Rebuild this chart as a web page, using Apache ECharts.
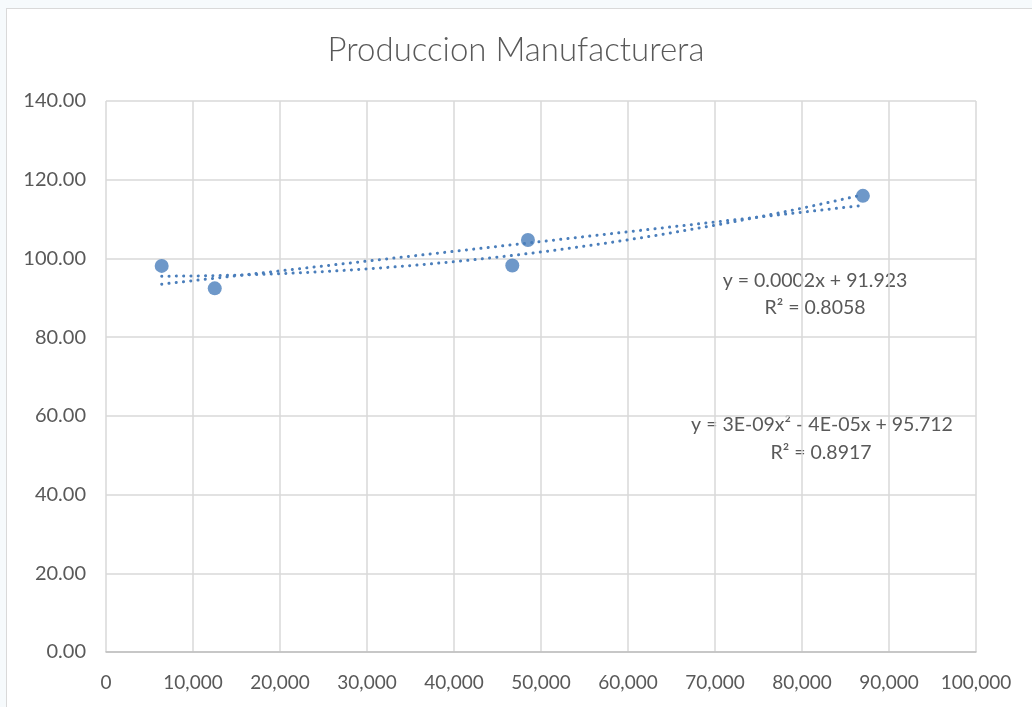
<!DOCTYPE html>
<html>
<head>
<meta charset="utf-8">
<script src="https://cdn.jsdelivr.net/npm/echarts@6/dist/echarts.min.js"></script>
<style>
  html, body { margin: 0; padding: 0; background: #f6fafc; }
  #frame {
    position: absolute; left: 6px; top: 8px; width: 1040px; height: 720px;
    background: #fff; border: 1px solid #d9d9d9; box-sizing: border-box;
  }
  #chart { position: absolute; left: 0; top: 0; width: 1032px; height: 707px; }
</style>
</head>
<body>
<div id="frame"></div>
<div id="chart"></div>
<script>
// datos
const xValues = [6400, 12500, 46700, 48500, 87000]
const yValues = [98.1, 92.4, 98.2, 104.7, 115.9]
const xTicks = [0, 10000, 20000, 30000, 40000, 50000, 60000, 70000, 80000, 90000, 100000]
const yTicks = [0, 20, 40, 60, 80, 100, 120, 140]
const linearLabel = ['y = 0.0002x + 91.923', 'R² = 0.8058']
const polyLabel = ['y = 3E-09x² - 4E-05x + 95.712', 'R² = 0.8917']

const blue = '#4a7ebb'
const grey = '#595959'
const font = 'Lato, "Open Sans", sans-serif'

// minimos cuadrados (lineal y polinomial grado 2)
const fitLinear = (xs, ys) => {
  const n = xs.length
  const mx = xs.reduce((a, b) => a + b, 0) / n
  const my = ys.reduce((a, b) => a + b, 0) / n
  let sxy = 0, sxx = 0
  xs.forEach((x, i) => { sxy += (x - mx) * (ys[i] - my); sxx += (x - mx) ** 2 })
  const b = sxy / sxx
  return x => my + b * (x - mx)
}

const fitQuad = (xs, ys) => {
  // escalar x para estabilidad
  const s = 1e4
  const u = xs.map(x => x / s)
  const S = k => u.reduce((a, v) => a + v ** k, 0)
  const T = k => u.reduce((a, v, i) => a + v ** k * ys[i], 0)
  const M = [
    [S(0), S(1), S(2), T(0)],
    [S(1), S(2), S(3), T(1)],
    [S(2), S(3), S(4), T(2)]
  ]
  for (let c = 0; c < 3; c++) {
    for (let r = c + 1; r < 3; r++) {
      const f = M[r][c] / M[c][c]
      for (let k = c; k < 4; k++) M[r][k] -= f * M[c][k]
    }
  }
  const p = [0, 0, 0]
  for (let r = 2; r >= 0; r--) {
    let v = M[r][3]
    for (let k = r + 1; k < 3; k++) v -= M[r][k] * p[k]
    p[r] = v / M[r][r]
  }
  return x => p[0] + p[1] * (x / s) + p[2] * (x / s) ** 2
}

const trend = fn => {
  const lo = Math.min(...xValues), hi = Math.max(...xValues)
  const out = []
  for (let i = 0; i <= 60; i++) {
    const x = lo + (hi - lo) * i / 60
    out.push([x, fn(x)])
  }
  return out
}

const chart = echarts.init(document.getElementById('chart'), null, { renderer: 'canvas' })

const dotted = { color: blue, width: 3, type: [0.1, 7.2], cap: 'round' }
const noteStyle = { align: 'center', verticalAlign: 'middle', fill: grey, font: '19.5px ' + font }

const option = {
  animation: false,
  title: {
    text: 'Produccion Manufacturera',
    left: 'center',
    top: 29,
    textStyle: { fontFamily: font, fontSize: 33, fontWeight: 300, color: grey }
  },
  grid: { left: 106, right: 56, top: 101, bottom: 55 },
  xAxis: {
    type: 'value',
    min: xTicks[0],
    max: xTicks[xTicks.length - 1],
    interval: xTicks[1] - xTicks[0],
    axisLine: { show: true, onZero: false, lineStyle: { color: '#bfbfbf', width: 1.5 } },
    axisTick: { show: false },
    splitLine: { lineStyle: { color: '#d9d9d9', width: 1.5 } },
    axisLabel: {
      margin: 21, color: grey, fontFamily: font, fontSize: 19,
      formatter: v => v.toLocaleString('en-US')
    }
  },
  yAxis: {
    type: 'value',
    min: yTicks[0],
    max: yTicks[yTicks.length - 1],
    interval: yTicks[1] - yTicks[0],
    axisLine: { show: false },
    axisTick: { show: false },
    splitLine: { lineStyle: { color: '#d9d9d9', width: 1.5 } },
    axisLabel: {
      margin: 20, color: grey, fontFamily: font, fontSize: 20,
      formatter: v => v.toFixed(2)
    }
  },
  series: [
    {
      type: 'line', data: trend(fitLinear(xValues, yValues)),
      showSymbol: false, smooth: false, lineStyle: dotted, z: 2
    },
    {
      type: 'line', data: trend(fitQuad(xValues, yValues)),
      showSymbol: false, smooth: false, lineStyle: dotted, z: 2
    },
    {
      type: 'scatter', data: xValues.map((x, i) => [x, yValues[i]]),
      symbolSize: 14, itemStyle: { color: blue }, z: 3
    }
  ],
  graphic: [
    { type: 'text', x: 815, y: 281, style: Object.assign({ text: linearLabel[0] }, noteStyle) },
    { type: 'text', x: 815, y: 308, style: Object.assign({ text: linearLabel[1] }, noteStyle) },
    { type: 'text', x: 822, y: 425, style: Object.assign({ text: polyLabel[0] }, noteStyle) },
    { type: 'text', x: 821, y: 453, style: Object.assign({ text: polyLabel[1] }, noteStyle) }
  ]
}

chart.setOption(option)
</script>
</body>
</html>
